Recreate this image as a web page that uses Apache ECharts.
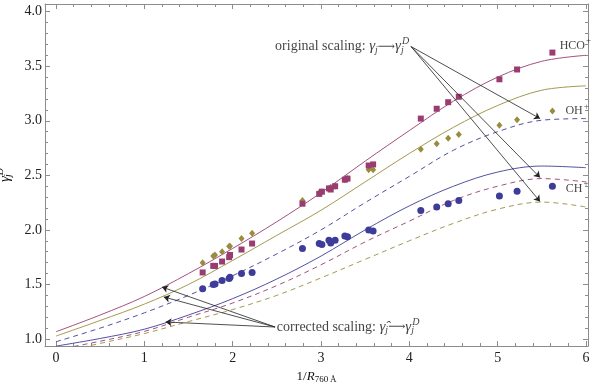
<!DOCTYPE html>
<html>
<head>
<meta charset="utf-8">
<script src="https://cdn.jsdelivr.net/npm/echarts@6/dist/echarts.min.js"></script>
<style>
html, body { margin: 0; padding: 0; background: #fff; }
#chart { width: 600px; height: 385px; }
</style>
</head>
<body>
<div id="chart"></div>
<script>
// model curves, sampled at curveX
var curveX    = [0, 0.5, 1, 1.5, 2, 2.5, 3, 3.5, 4, 4.5, 5, 5.5, 6];
var hcoSolid  = [1.067, 1.22, 1.39, 1.60, 1.83, 2.075, 2.34, 2.63, 2.91, 3.18, 3.40, 3.545, 3.60];
var ohSolid   = [1.027, 1.17, 1.32, 1.50, 1.72, 1.95, 2.18, 2.44, 2.70, 2.94, 3.14, 3.28, 3.32];
var chSolid   = [0.935, 1.005, 1.09, 1.22, 1.37, 1.55, 1.76, 2.00, 2.22, 2.40, 2.53, 2.585, 2.57];
var ohDashed  = [0.975, 1.10, 1.24, 1.40, 1.58, 1.78, 2.00, 2.25, 2.49, 2.73, 2.90, 3.005, 3.02];
var chDashed  = [0.90, 0.98, 1.07, 1.20, 1.33, 1.49, 1.68, 1.89, 2.08, 2.27, 2.40, 2.47, 2.44];
var hcoDashed = [0.87, 0.96, 1.05, 1.16, 1.27, 1.40, 1.56, 1.73, 1.90, 2.06, 2.19, 2.255, 2.21];

// measured points
var ptsX   = [1.66, 1.78, 1.80, 1.88, 1.96, 1.97, 2.10, 2.22, 2.79, 2.98, 3.01, 3.09, 3.11, 3.16, 3.27, 3.30, 3.54, 3.59, 4.13, 4.31, 4.44, 4.56, 5.02, 5.22, 5.62];
var hcoPts = [1.61, 1.67, 1.67, 1.71, 1.75, 1.77, 1.82, 1.875, 2.24, 2.33, 2.35, 2.38, 2.37, 2.40, 2.46, 2.47, 2.59, 2.60, 3.02, 3.11, 3.17, 3.22, 3.38, 3.47, 3.625];
var ohPts  = [1.70, 1.76, 1.77, 1.80, 1.85, 1.85, 1.92, 1.97, 2.27, 2.34, 2.35, 2.38, 2.39, 2.40, 2.46, 2.47, 2.55, 2.55, 2.74, 2.79, 2.84, 2.875, 2.96, 3.01, 3.09];
var chPts  = [1.46, 1.50, 1.505, 1.537, 1.555, 1.565, 1.60, 1.61, 1.83, 1.876, 1.867, 1.906, 1.88, 1.906, 1.943, 1.937, 2.00, 1.99, 2.178, 2.21, 2.24, 2.27, 2.31, 2.355, 2.40];

// ticks
var xTicks = [0, 1, 2, 3, 4, 5, 6];
var xMinor = [0, 0.2, 0.4, 0.6, 0.8, 1, 1.2, 1.4, 1.6, 1.8, 2, 2.2, 2.4, 2.6, 2.8, 3, 3.2, 3.4, 3.6, 3.8, 4, 4.2, 4.4, 4.6, 4.8, 5, 5.2, 5.4, 5.6, 5.8, 6];
var yTicks = [1, 1.5, 2, 2.5, 3, 3.5, 4];
var yMinor = [1, 1.1, 1.2, 1.3, 1.4, 1.5, 1.6, 1.7, 1.8, 1.9, 2, 2.1, 2.2, 2.3, 2.4, 2.5, 2.6, 2.7, 2.8, 2.9, 3, 3.1, 3.2, 3.3, 3.4, 3.5, 3.6, 3.7, 3.8, 3.9, 4];

// annotation arrows
var origFrom = [4.02, 3.68];
var origTips = [[5.48, 3.02], [5.48, 2.48], [5.48, 2.26]];
var corrFrom = [2.48, 1.11];
var corrTips = [[1.20, 1.476], [1.22, 1.385], [1.24, 1.156]];

var serif = "'Liberation Serif', 'DejaVu Serif', serif";
var cNavy = '#3d3d99', cMag = '#993d71', cOlive = '#998d3d';
var axisGray = '#8c8c8c';

function zip(xs, ys) {
    return xs.map(function (x, i) { return [x, ys[i]]; });
}

var rich = {
    t:   { fontFamily: serif, fontSize: 14, color: '#111' },
    s:   { fontFamily: serif, fontSize: 12, color: '#111' },
    g:   { fontFamily: serif, fontSize: 15, fontStyle: 'italic', color: '#111' },
    sb:  { fontFamily: serif, fontSize: 10, fontStyle: 'italic', color: '#111', padding: [7, 0, 0, 0] },
    sbz: { fontFamily: serif, fontSize: 10, fontStyle: 'italic', color: '#111', padding: [7, 0, 0, 0], width: 1 },
    sp:  { fontFamily: serif, fontSize: 10, fontStyle: 'italic', color: '#111', padding: [0, 0, 10, 0] },
    ar:  { fontFamily: "'DejaVu Serif', serif", fontSize: 12, color: '#111' },
    sup: { fontFamily: serif, fontSize: 9, color: '#111', padding: [0, 0, 9, 1] }
};

function labelItem(pt, text, pos) {
    return {
        value: pt,
        label: {
            show: true, position: pos, distance: 0,
            formatter: text, fontFamily: serif, fontSize: 13, color: '#111', rich: rich
        }
    };
}

function lineSeries(data, color, dashed) {
    return {
        type: 'line', data: zip(curveX, data), smooth: 0.35, showSymbol: false, silent: true,
        lineStyle: { color: color, width: 0.9, type: dashed ? [5, 4] : 'solid' },
        z: 2
    };
}

function scatterSeries(data, color, symbol, size) {
    return {
        type: 'scatter', data: zip(ptsX, data), symbol: symbol, symbolSize: size,
        itemStyle: { color: color, opacity: 1 }, z: 3
    };
}

function xAxisDef(pos, ticks, len, showLine, showLabel) {
    return {
        type: 'value', position: pos, min: -0.125, max: 6.023,
        axisLine: { show: showLine, onZero: false, lineStyle: { color: axisGray, width: 1 } },
        axisTick: { show: true, inside: true, length: len, customValues: ticks, lineStyle: { color: axisGray } },
        axisLabel: { show: showLabel, customValues: xTicks, margin: 5, fontFamily: serif, fontSize: 14, color: '#222' },
        splitLine: { show: false }
    };
}

function yAxisDef(pos, ticks, len, showLine, showLabel) {
    return {
        type: 'value', position: pos, min: 0.936, max: 4.07,
        axisLine: { show: showLine, onZero: false, lineStyle: { color: axisGray, width: 1 } },
        axisTick: { show: true, inside: true, length: len, customValues: ticks, lineStyle: { color: axisGray } },
        axisLabel: {
            show: showLabel, customValues: yTicks, margin: 3, fontFamily: serif, fontSize: 14, color: '#222',
            formatter: function (v) { return v.toFixed(1); }
        },
        splitLine: { show: false }
    };
}

var xMain = xAxisDef('bottom', xTicks, 5, true, true);
xMain.name = '1/{it|R}{sb|760\u2009\u00c5}';
xMain.nameLocation = 'middle';
xMain.nameGap = 22;
xMain.nameTextStyle = {
    fontFamily: serif, fontSize: 13, color: '#111',
    rich: {
        it: { fontFamily: serif, fontSize: 13, fontStyle: 'italic', color: '#111' },
        sb: { fontFamily: serif, fontSize: 9, color: '#111', padding: [7, 0, 0, 0] }
    }
};

var yMain = yAxisDef('left', yTicks, 5, true, true);
yMain.name = '{g|\u03b3}{sbz|j}{sp|D}';
yMain.nameLocation = 'middle';
yMain.nameGap = 18;
yMain.nameRotate = 90;
yMain.nameTextStyle = { fontFamily: serif, fontSize: 14, color: '#111', rich: rich };

var arrowData = origTips.map(function (t) { return { coords: [origFrom, t] }; })
    .concat(corrTips.map(function (t) { return { coords: [corrFrom, t] }; }));

var myChart = echarts.init(document.getElementById('chart'), null, { renderer: 'canvas' });

var option = {
    animation: false,
    backgroundColor: '#fff',
    grid: { left: 45, right: 12, top: 4, bottom: 39, containLabel: false, outerBoundsMode: 'none' },
    xAxis: [
        xMain,
        xAxisDef('bottom', xMinor, 3, false, false),
        xAxisDef('top', xTicks, 5, true, false),
        xAxisDef('top', xMinor, 3, false, false)
    ],
    yAxis: [
        yMain,
        yAxisDef('left', yMinor, 3, false, false),
        yAxisDef('right', yTicks, 5, true, false),
        yAxisDef('right', yMinor, 3, false, false)
    ],
    series: [
        lineSeries(hcoSolid, cMag, false),
        lineSeries(ohSolid, cOlive, false),
        lineSeries(chSolid, cNavy, false),
        lineSeries(ohDashed, cNavy, true),
        lineSeries(chDashed, cMag, true),
        lineSeries(hcoDashed, cOlive, true),
        scatterSeries(chPts, cNavy, 'circle', 7),
        scatterSeries(ohPts, cOlive, 'diamond', [6, 7]),
        scatterSeries(hcoPts, cMag, 'rect', 6),
        {
            type: 'lines', coordinateSystem: 'cartesian2d', silent: true,
            symbol: ['none', 'arrow'], symbolSize: 6,
            lineStyle: { color: '#222', width: 0.8, opacity: 1, curveness: 0 },
            data: arrowData, z: 4
        },
        {
            type: 'scatter', symbolSize: 0, silent: true, z: 5,
            data: [
                labelItem([5.88, 3.69], '{s|HCO}{sup|+}', 'inside'),
                labelItem([5.90, 3.09], '{s|OH}{sup|+}', 'inside'),
                labelItem([5.90, 2.38], '{s|CH}{sup|+}', 'inside'),
                labelItem([2.48, 3.68], '{t|original scaling: }{g|\u03b3}{sb|j}{ar|\u27f6}{g|\u03b3}{sbz|j}{sp|D}', 'right'),
                labelItem([2.50, 1.11], '{t|corrected scaling: }{g|\u03b3\u0302}{sb|j}{ar|\u27f6}{g|\u03b3}{sbz|j}{sp|D}', 'right')
            ]
        }
    ]
};

myChart.setOption(option);
</script>
</body>
</html>
